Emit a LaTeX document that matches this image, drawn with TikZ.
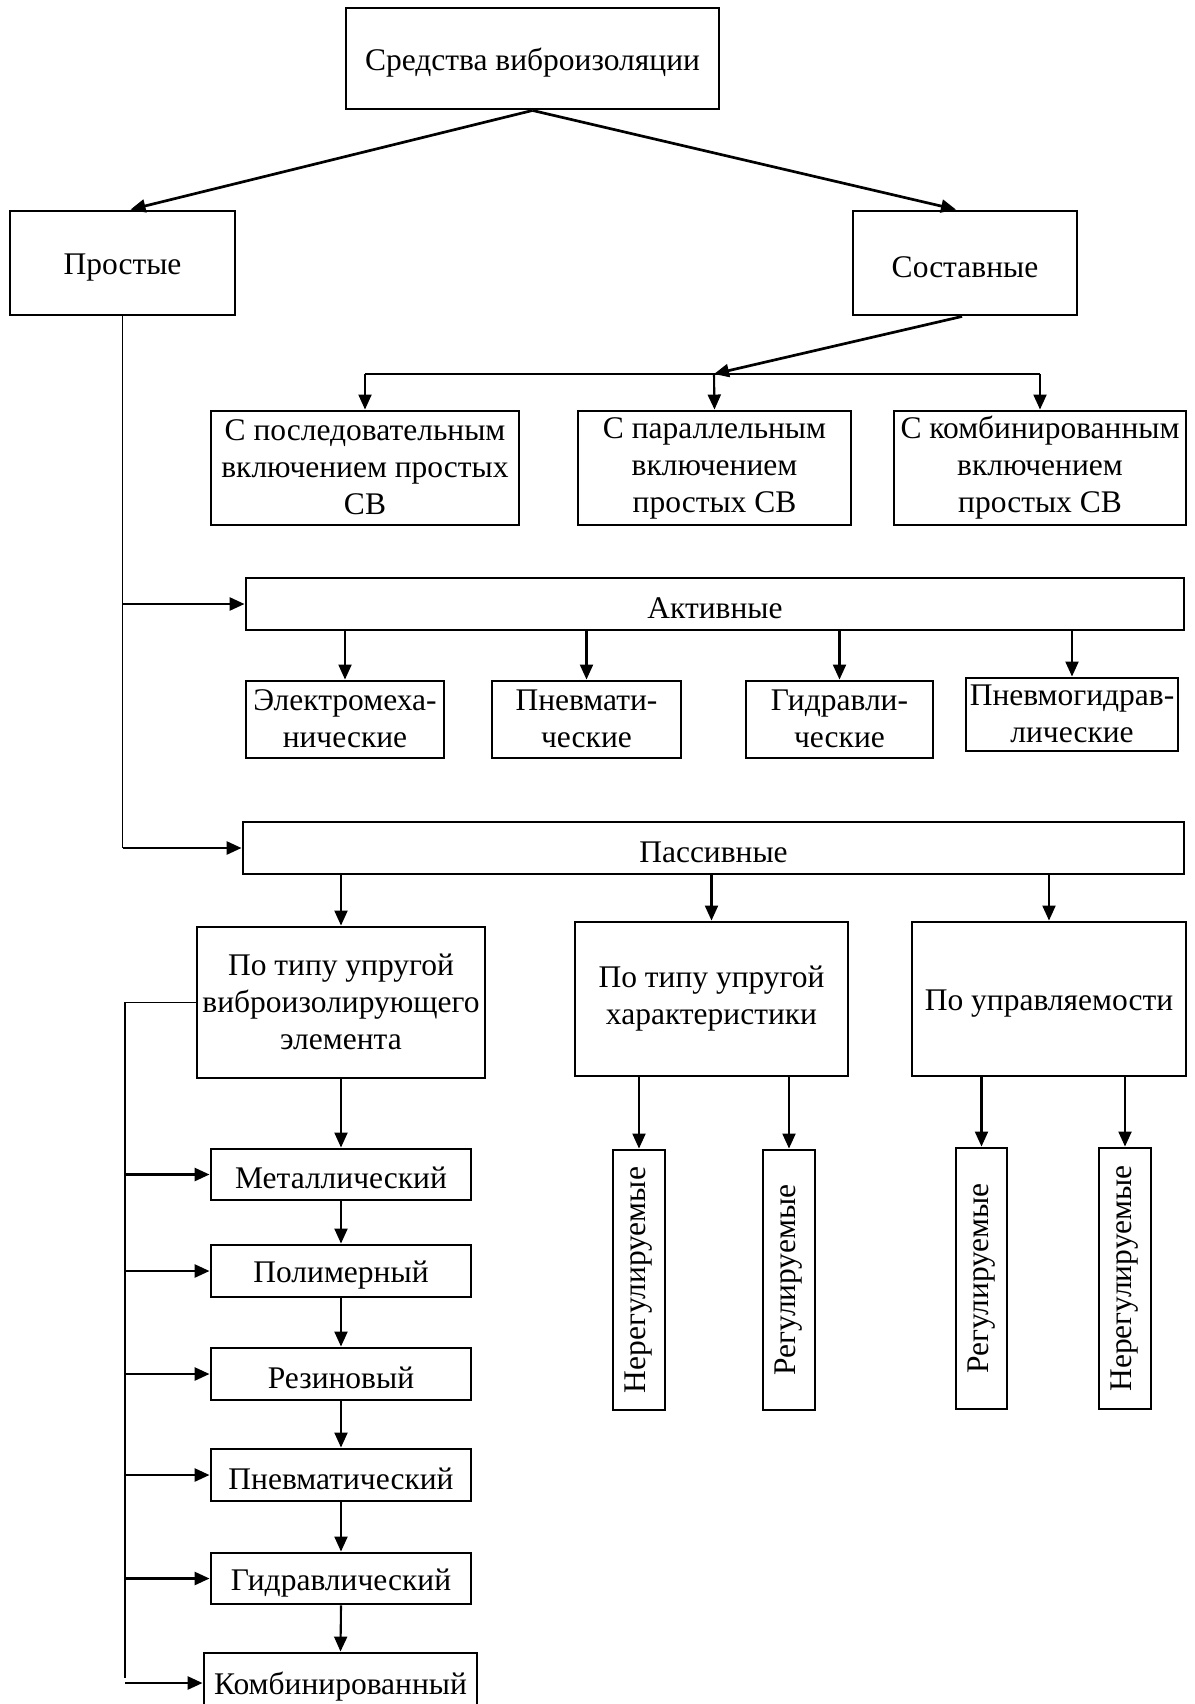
\documentclass[tikz,border=0pt]{standalone}
\usepackage{fontspec}
\usepackage{graphicx}
\setmainfont{Liberation Serif}
\usetikzlibrary{arrows.meta}
\newcommand{\myfs}{\fontsize{31.5}{37}\selectfont}
\newcommand{\mystrut}{\rule[-2pt]{0pt}{32pt}}
\begin{document}
\begin{tikzpicture}[x=1pt,y=-1pt,
  bxv/.style={draw, rectangle, line width=2.9pt, inner sep=0pt, align=center, font=\myfs},
  bx/.style={bxv, execute at begin node=\mystrut, execute at end node=\mystrut},
  arr/.style={line width=2.7pt, -{Triangle[length=15pt,width=13pt]}},
  thinarr/.style={line width=2.1pt, -{Triangle[length=15pt,width=13pt]}},
  thinline/.style={line width=1.4pt}]
\useasboundingbox (0,0) rectangle (1194,1704);
\fill[white] (0,0) rectangle (1194,1704);

% level 0-1
\node[bx, minimum width=373pt, minimum height=101pt] (top) at (532.5,58.5) {Средства виброизоляции};
\node[bx, minimum width=225pt, minimum height=104pt] (pr) at (122.5,263) {Простые};
\node[bx, minimum width=224pt, minimum height=104pt] (so) at (965,263) {Составные};

% composite
\node[bx, minimum width=308pt, minimum height=114pt] (seq) at (365,468) {С последовательным\\включением простых\\СВ};
\node[bx, minimum width=273pt, minimum height=114pt] (par) at (714.5,468) {С параллельным\\включением\\простых СВ};
\node[bx, minimum width=292pt, minimum height=114pt] (cmb) at (1040,468) {С комбинированным\\включением\\простых СВ};
\coordinate (j) at (714,374);

% active
\node[bx, minimum width=938pt, minimum height=52pt] (act) at (715,604) {Активные};
\node[bx, minimum width=198pt, minimum height=77pt] (em) at (345,719.5) {Электромеха-\\нические};
\node[bx, minimum width=189pt, minimum height=77pt] (pn) at (586.5,719.5) {Пневмати-\\ческие};
\node[bx, minimum width=187pt, minimum height=77pt] (gd) at (839.5,719.5) {Гидравли-\\ческие};
\node[bx, minimum width=212pt, minimum height=73pt] (pg) at (1072,714.5) {Пневмогидрав-\\лические};

% passive
\node[bx, minimum width=941pt, minimum height=52pt] (pas) at (713.5,848) {Пассивные};
\node[bx, minimum width=288pt, minimum height=151pt] (t1) at (341,1002.5) {По типу упругой\\виброизолирующего\\элемента};
\node[bx, minimum width=273pt, minimum height=154pt] (t2) at (711.5,999) {По типу упругой\\характеристики};
\node[bx, minimum width=274pt, minimum height=154pt] (up) at (1049,999) {По управляемости};

% materials
\node[bx, minimum width=260pt, minimum height=51pt] (m1) at (341,1174.5) {Металлический};
\node[bx, minimum width=260pt, minimum height=52pt] (m2) at (341,1271) {Полимерный};
\node[bx, minimum width=260pt, minimum height=52pt] (m3) at (341,1374) {Резиновый};
\node[bx, minimum width=260pt, minimum height=52pt] (m4) at (341,1475) {Пневматический};
\node[bx, minimum width=260pt, minimum height=51pt] (m5) at (341,1578.5) {Гидравлический};
\node[bx, minimum width=273pt, minimum height=60pt] (m6) at (340.5,1683) {Комбинированный};

% vertical boxes
\node[bxv, minimum width=52pt, minimum height=260pt] (v1) at (639,1280) {\rotatebox{90}{Нерегулируемые}};
\node[bxv, minimum width=52pt, minimum height=260pt] (v2) at (789,1280) {\rotatebox{90}{Регулируемые}};
\node[bxv, minimum width=51pt, minimum height=261pt] (v3) at (981.5,1278.5) {\rotatebox{90}{Регулируемые}};
\node[bxv, minimum width=52pt, minimum height=261pt] (v4) at (1125,1278.5) {\rotatebox{90}{Нерегулируемые}};

% connectors: top level
\draw[arr] (top.south) -- ([xshift=8pt]pr.north);
\draw[arr] (top.south) -- ([xshift=-9pt]so.north);
\draw[arr] ([xshift=-3pt]so.south) -- (j);
\draw[thinline] (seq.north |- j) -- (cmb.north |- j);
\draw[thinarr] (seq.north |- j) -- (seq.north);
\draw[thinarr] (j) -- (par.north);
\draw[thinarr] (cmb.north |- j) -- (cmb.north);

% simple branch
\draw[thinline] (pr.south) -- (pr.south |- pas.west);
\draw[arr] (pr.south |- act.west) -- (act.west);
\draw[arr] (pr.south |- pas.west) -- (pas.west);

\foreach \n in {em,pn,gd,pg}{\draw[thinarr] (\n.north |- act.south) -- (\n.north);}
\foreach \n in {t1,t2,up}{\draw[thinarr] (\n.north |- pas.south) -- (\n.north);}

% material chain
\draw[thinarr] (t1.south) -- (m1.north);
\draw[thinarr] (m1.south) -- (m2.north);
\draw[thinarr] (m2.south) -- (m3.north);
\draw[thinarr] (m3.south) -- (m4.north);
\draw[thinarr] (m4.south) -- (m5.north);
\draw[thinarr] (m5.south) -- (m6.north);

\coordinate (lx) at (125,0);
\coordinate (lb) at (125,1678);
\draw[thinline] (t1.west) -- (t1.west -| lx) -- (lb);
\foreach \n in {m1,m2,m3,m4,m5,m6}{\draw[arr] (lx |- \n.west) -- (\n.west);}

% characteristic / control
\draw[thinarr] (v1.north |- t2.south) -- (v1.north);
\draw[thinarr] (v2.north |- t2.south) -- (v2.north);
\draw[thinarr] (v3.north |- up.south) -- (v3.north);
\draw[thinarr] (v4.north |- up.south) -- (v4.north);
\end{tikzpicture}
\end{document}
